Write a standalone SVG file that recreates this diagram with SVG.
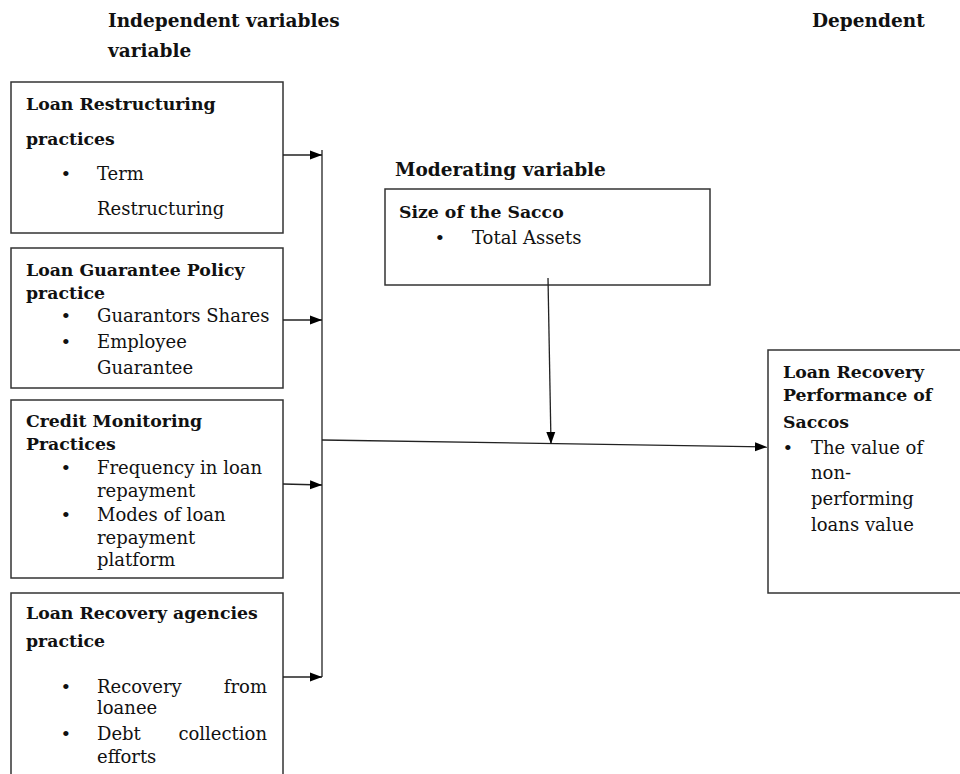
<svg xmlns="http://www.w3.org/2000/svg" width="960" height="774" viewBox="0 0 960 774">
<style>
.t{font-family:"DejaVu Serif","Liberation Serif",serif;font-size:18px;fill:#111}
.b{font-weight:bold;font-size:17.3px}
.h{font-family:"DejaVu Serif","Liberation Serif",serif;font-weight:bold;font-size:18.5px;fill:#111}
.u{font-family:"Liberation Serif",serif;font-size:22px;fill:#111}
.box{fill:#fff;stroke:#333;stroke-width:1.5}
.c{stroke:#222;stroke-width:1.3;fill:none}
</style>
<defs>
<marker id="ah" markerWidth="12" markerHeight="10" refX="12" refY="5" orient="auto" markerUnits="userSpaceOnUse">
<path d="M0,0.5 L12,5 L0,9.5 Z" fill="#000"/>
</marker>
</defs>
<rect width="960" height="774" fill="#fff"/>
<g id="headers">
<text class="h" x="108" y="27">Independent variables</text>
<text class="h" x="108" y="57">variable</text>
<text class="h" x="812" y="27">Dependent</text>
<text class="h" x="395" y="176">Moderating variable</text>
</g>
<g id="node-restructuring">
<rect class="box" x="11" y="82" width="272" height="151"/>
<text class="t b" x="26" y="110">Loan Restructuring</text>
<text class="t b" x="26" y="145">practices</text>
<text class="u" x="62" y="181">•</text>
<text class="t" x="97" y="180">Term</text>
<text class="t" x="97" y="215">Restructuring</text>
</g>
<g id="node-guarantee">
<rect class="box" x="11" y="248" width="272" height="140"/>
<text class="t b" x="26" y="276">Loan Guarantee Policy</text>
<text class="t b" x="26" y="299">practice</text>
<text class="u" x="62" y="323">•</text>
<text class="t" x="97" y="322">Guarantors Shares</text>
<text class="u" x="62" y="349">•</text>
<text class="t" x="97" y="348">Employee</text>
<text class="t" x="97" y="374">Guarantee</text>
</g>
<g id="node-monitoring">
<rect class="box" x="11" y="400" width="272" height="178"/>
<text class="t b" x="26" y="427">Credit Monitoring</text>
<text class="t b" x="26" y="450">Practices</text>
<text class="u" x="62" y="475">•</text>
<text class="t" x="97" y="474">Frequency in loan</text>
<text class="t" x="97" y="497">repayment</text>
<text class="u" x="62" y="522">•</text>
<text class="t" x="97" y="521">Modes of loan</text>
<text class="t" x="97" y="544">repayment</text>
<text class="t" x="97" y="566">platform</text>
</g>
<g id="node-agencies">
<rect class="box" x="11" y="593" width="272" height="190"/>
<text class="t b" x="26" y="619">Loan Recovery agencies</text>
<text class="t b" x="26" y="647">practice</text>
<text class="u" x="62" y="694">•</text>
<text class="t" x="97" y="693">Recovery</text>
<text class="t" x="267" y="693" text-anchor="end">from</text>
<text class="t" x="97" y="714">loanee</text>
<text class="u" x="62" y="741">•</text>
<text class="t" x="97" y="740">Debt</text>
<text class="t" x="267" y="740" text-anchor="end">collection</text>
<text class="t" x="97" y="763">efforts</text>
</g>
<g id="node-size">
<rect class="box" x="385" y="189" width="325" height="96"/>
<text class="t b" x="399" y="218">Size of the Sacco</text>
<text class="u" x="436" y="245">•</text>
<text class="t" x="472" y="244">Total Assets</text>
</g>
<g id="node-performance">
<rect class="box" x="768" y="350" width="200" height="243"/>
<text class="t b" x="783" y="378">Loan Recovery</text>
<text class="t b" x="783" y="401">Performance of</text>
<text class="t b" x="783" y="428">Saccos</text>
<text class="u" x="784" y="455">•</text>
<text class="t" x="811" y="454">The value of</text>
<text class="t" x="811" y="479">non-</text>
<text class="t" x="811" y="505">performing</text>
<text class="t" x="811" y="531">loans value</text>
</g>
<g id="connectors">
<line class="c" x1="322" y1="150" x2="322" y2="677"/>
<line class="c" x1="283" y1="155" x2="322" y2="155" marker-end="url(#ah)"/>
<line class="c" x1="283" y1="320" x2="322" y2="320" marker-end="url(#ah)"/>
<line class="c" x1="283" y1="484" x2="322" y2="485" marker-end="url(#ah)"/>
<line class="c" x1="283" y1="677" x2="322" y2="677" marker-end="url(#ah)"/>
<line class="c" x1="322" y1="440" x2="767" y2="447" marker-end="url(#ah)"/>
<line class="c" x1="548" y1="278" x2="551" y2="444" marker-end="url(#ah)"/>
</g>
</svg>
